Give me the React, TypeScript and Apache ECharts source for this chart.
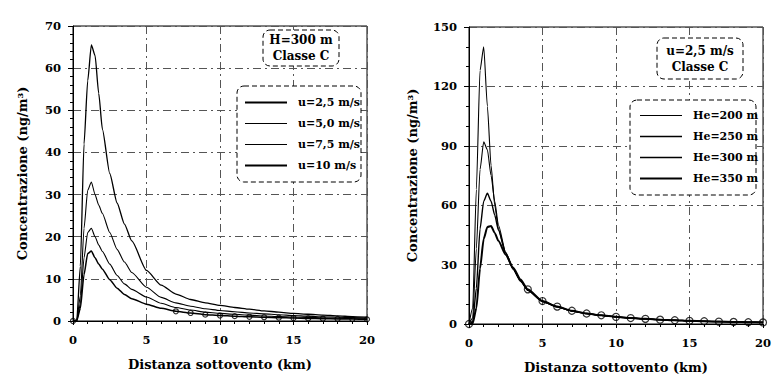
import React, { useEffect, useRef } from "react";
import * as echarts from "echarts";

// downwind distance samples (km)
const distanceKm = [0, 0.25, 0.5, 0.75, 1, 1.25, 1.5, 1.75, 2, 2.5, 3, 3.5, 4, 5, 6, 7, 8, 9, 10, 11, 12, 13, 14, 15, 16, 17, 18, 19, 20];

// left chart: H=300 m, class C, various wind speeds
const windLabels = ["u=2,5 m/s", "u=5,0 m/s", "u=7,5 m/s", "u=10 m/s"];
const windU25 = [0, 0, 13, 42, 57, 65.5, 63, 54, 45.5, 35, 28, 23, 19, 12, 8.5, 6.4, 5.1, 4.3, 3.7, 3.2, 2.8, 2.4, 2.1, 1.8, 1.6, 1.4, 1.2, 1.05, 0.9];
const windU50 = [0, 0, 6, 22, 31, 33, 30, 27.5, 25.5, 21, 17, 14, 11.5, 8, 5.6, 4.3, 3.5, 2.9, 2.5, 2.2, 1.9, 1.7, 1.5, 1.3, 1.15, 1.0, 0.9, 0.8, 0.7];
const windU75 = [0, 0, 4, 15, 21, 22, 20, 18, 16.5, 13.5, 10.8, 8.8, 7.5, 5.7, 4.2, 3.2, 2.6, 2.1, 1.8, 1.6, 1.4, 1.2, 1.05, 0.95, 0.85, 0.75, 0.65, 0.6, 0.5];
const windU100 = [0, 0, 3, 11, 16, 16.6, 15, 13.5, 12.3, 9.8, 7.8, 6.3, 5.3, 4.0, 3.0, 2.3, 1.9, 1.5, 1.3, 1.15, 1.0, 0.9, 0.8, 0.7, 0.62, 0.55, 0.5, 0.45, 0.4];

// right chart: u=2.5 m/s, class C, various effective heights
const heightLabels = ["He=200 m", "He=250 m", "He=300 m", "He=350 m"];
const he200 = [0, 8, 68, 128, 140, 110, 80, 60, 48, 35, 27.5, 21.5, 17, 11.3, 8.6, 6.5, 5.2, 4.3, 3.5, 3.0, 2.6, 2.2, 1.9, 1.6, 1.4, 1.2, 1.05, 0.9, 0.8];
const he250 = [0, 3, 38, 78, 92, 88, 75, 62, 50, 36, 28, 22, 17, 11.4, 8.7, 6.6, 5.3, 4.3, 3.6, 3.0, 2.6, 2.2, 1.9, 1.6, 1.4, 1.2, 1.05, 0.9, 0.8];
const he300 = [0, 1, 18, 48, 62, 66, 62, 55, 47.5, 36, 28, 22, 17.2, 11.5, 8.7, 6.6, 5.3, 4.4, 3.6, 3.0, 2.6, 2.2, 1.9, 1.6, 1.4, 1.2, 1.05, 0.9, 0.8];
const he350 = [0, 0.3, 8, 28, 43, 49, 49.5, 46, 42, 35, 28.5, 22.5, 17.5, 11.6, 8.8, 6.7, 5.3, 4.4, 3.6, 3.0, 2.6, 2.2, 1.9, 1.6, 1.4, 1.2, 1.05, 0.9, 0.8];

const xAxisMax = 20;
const xAxisStep = 5;
const leftYMax = 70;
const leftYStep = 10;
const rightYMax = 150;
const rightYStep = 30;

const leftBoxLines = ["H=300 m", "Classe C"];
const rightBoxLines = ["u=2,5 m/s", "Classe C"];
const xName = "Distanza sottovento (km)";
const yName = "Concentrazione (ng/m³)";

const FONT = "DejaVu Serif";

export default function App() {
  const ref = useRef<HTMLDivElement>(null);
  useEffect(() => {
    if (!ref.current) return;
    const chart = echarts.init(ref.current, undefined, { renderer: "svg" });
    const pairs = (vals: number[]) => distanceKm.map((x, i) => [x, vals[i]]);
    const markerPairs = (vals: number[], from: number) =>
      distanceKm.map((x, i) => [x, vals[i]]).filter((p) => p[0] === 0 || (Number.isInteger(p[0]) && p[0] >= from));

    const splitStyle = { show: true, lineStyle: { color: "#555", width: 1, type: [8, 4, 2, 4] as any } };
    const labelStyle = { fontFamily: FONT, fontWeight: "bold" as const, fontSize: 11.5, color: "#000" };

    const mkX = (gi: number) => ({
      type: "value",
      gridIndex: gi,
      min: 0,
      max: xAxisMax,
      interval: xAxisStep,
      axisLine: { show: true, lineStyle: { color: "#000" } },
      axisTick: { show: true, length: 4, lineStyle: { color: "#000" } },
      minorTick: { show: true, splitNumber: 5, length: 3, lineStyle: { color: "#000" } },
      axisLabel: { ...labelStyle, margin: 13 },
      splitLine: splitStyle,
      name: xName,
      nameLocation: "middle",
      nameGap: 37,
      nameTextStyle: { fontFamily: FONT, fontWeight: "bold", fontSize: 13, color: "#000" },
    });
    const mkY = (gi: number, max: number, step: number, minorSplit: number, gap: number) => ({
      type: "value",
      gridIndex: gi,
      min: 0,
      max,
      interval: step,
      axisLine: { show: true, lineStyle: { color: "#000" } },
      axisTick: { show: true, length: 5, lineStyle: { color: "#000" } },
      minorTick: { show: true, splitNumber: minorSplit, length: 3, lineStyle: { color: "#000" } },
      axisLabel: { ...labelStyle, margin: 12 },
      splitLine: splitStyle,
      name: yName,
      nameLocation: "middle",
      nameGap: gap,
      nameTextStyle: { fontFamily: FONT, fontWeight: "bold", fontSize: 13, color: "#000" },
    });

    const lineSeries = (name: string, vals: number[], gi: number, width: number) => ({
      name,
      type: "line",
      xAxisIndex: gi,
      yAxisIndex: gi,
      data: pairs(vals),
      symbol: "none",
      smooth: 0.2,
      smoothMonotone: "x",
      lineStyle: { color: "#000", width },
      itemStyle: { color: "#000" },
      z: 3,
    });

    const box = (x: number, y: number, w: number, h: number) => ({
      type: "rect",
      shape: { x, y, width: w, height: h, r: 7 },
      style: { fill: "#fff", stroke: "#000", lineWidth: 1, lineDash: [5, 3] },
      z: 5,
    });
    const boxText = (x: number, y: number, lines: string[]) => ({
      type: "text",
      x,
      y,
      style: {
        text: lines.join("\n"),
        align: "center",
        verticalAlign: "middle",
        fontFamily: FONT,
        fontWeight: "bold",
        fontSize: 12,
        lineHeight: 16,
        fill: "#000",
      },
      z: 6,
    });

    const lineIcon = (w: number) => `path://M0,0H42V${w}H0Z`;
    const legendBase = {
      orient: "vertical",
      itemWidth: 42,
      itemHeight: 14,
      itemGap: 10,
      selectedMode: false,
      symbolKeepAspect: true,
      z: 10,
      textStyle: { fontFamily: FONT, fontWeight: "bold", fontSize: 11, color: "#000", padding: [0, 0, 0, 6] },
    };
    const windWidths = [2, 1.1, 1.1, 1.8];
    const heightWidths = [1.1, 1.3, 1.5, 2.2];

    chart.setOption({
      animation: false,
      backgroundColor: "#fff",
      grid: [
        { left: 73, top: 26, width: 294, height: 295, show: true, borderColor: "#000", borderWidth: 1, backgroundColor: "transparent" },
        { left: 469, top: 27, width: 294, height: 297, show: true, borderColor: "#000", borderWidth: 1, backgroundColor: "transparent" },
      ],
      xAxis: [mkX(0), mkX(1)],
      yAxis: [mkY(0, leftYMax, leftYStep, 5, 44), mkY(1, rightYMax, rightYStep, 3, 50)],
      legend: [
        { ...legendBase, data: windLabels.map((n, i) => ({ name: n, icon: lineIcon(windWidths[i]) })), left: 240, top: 92 },
        { ...legendBase, data: heightLabels.map((n, i) => ({ name: n, icon: lineIcon(heightWidths[i]) })), left: 635, top: 105 },
      ],
      graphic: [
        box(263, 30, 76, 36),
        boxText(301, 48, leftBoxLines),
        box(237, 86, 124, 96),
        box(657, 38, 86, 41),
        boxText(700, 59, rightBoxLines),
        box(630, 100, 126, 95),
      ],
      series: [
        lineSeries(windLabels[0], windU25, 0, 1.3),
        lineSeries(windLabels[1], windU50, 0, 1.1),
        lineSeries(windLabels[2], windU75, 0, 1.1),
        lineSeries(windLabels[3], windU100, 0, 1.5),
        {
          type: "scatter",
          xAxisIndex: 0,
          yAxisIndex: 0,
          data: markerPairs(windU100, 7),
          symbol: "circle",
          symbolSize: 5,
          itemStyle: { color: "transparent", borderColor: "#000", borderWidth: 1.2 },
          z: 4,
        },
        lineSeries(heightLabels[0], he200, 1, 1.1),
        lineSeries(heightLabels[1], he250, 1, 1.1),
        lineSeries(heightLabels[2], he300, 1, 1.4),
        lineSeries(heightLabels[3], he350, 1, 2),
        {
          type: "scatter",
          xAxisIndex: 1,
          yAxisIndex: 1,
          data: markerPairs(he350, 4),
          symbol: "circle",
          symbolSize: 7,
          itemStyle: { color: "transparent", borderColor: "#000", borderWidth: 1.2 },
          z: 4,
        },
      ],
    });
    return () => chart.dispose();
  }, []);
  return (
    <div
      ref={ref}
      style={{ position: "absolute", left: 0, top: 0, width: 776, height: 384, background: "#fff" }}
    />
  );
}
